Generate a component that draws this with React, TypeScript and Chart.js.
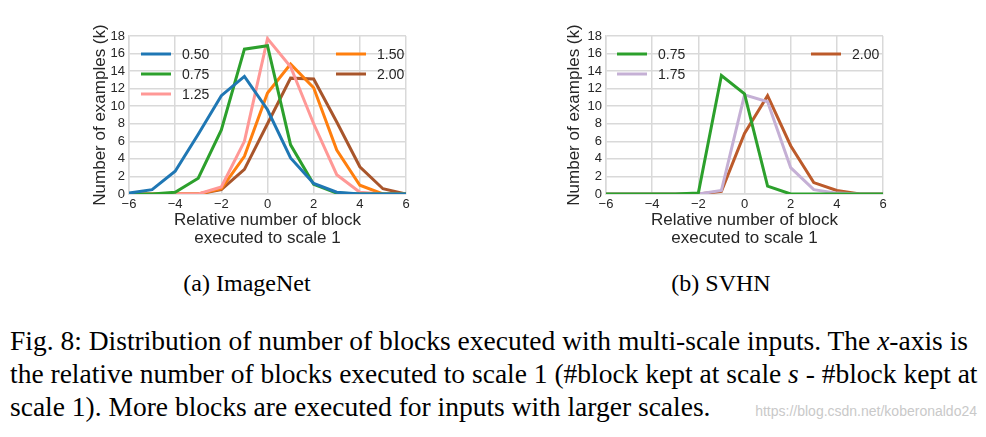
import React, { useEffect, useRef } from "react";
import { Chart, registerables } from "chart.js";

Chart.register(...registerables);

// ---------- data ----------
const xValues = [-6, -5, -4, -3, -2, -1, 0, 1, 2, 3, 4, 5, 6];

const imagenetLabels = ["0.50", "0.75", "1.25", "1.50", "2.00"];
const imagenet050 = [0.1, 0.5, 2.6, 6.8, 11.2, 13.4, 9.6, 4.1, 1.2, 0.2, 0.0, 0.0, 0.0];
const imagenet075 = [0.0, 0.0, 0.2, 1.8, 7.3, 16.5, 16.9, 5.6, 1.1, 0.1, 0.0, 0.0, 0.0];
const imagenet125 = [0.0, 0.0, 0.0, 0.0, 0.8, 6.0, 17.7, 14.5, 8.0, 2.2, 0.2, 0.0, 0.0];
const imagenet150 = [0.0, 0.0, 0.0, 0.0, 0.6, 4.3, 11.5, 14.8, 12.1, 5.0, 1.0, 0.0, 0.0];
const imagenet200 = [0.0, 0.0, 0.0, 0.0, 0.5, 2.8, 8.0, 13.2, 13.1, 8.2, 3.1, 0.6, 0.0];

const svhnLabels = ["0.75", "1.75", "2.00"];
const svhn075 = [0.0, 0.0, 0.0, 0.0, 0.1, 13.5, 11.4, 0.9, 0.0, 0.0, 0.0, 0.0, 0.0];
const svhn175 = [0.0, 0.0, 0.0, 0.0, 0.0, 0.4, 11.3, 10.5, 3.0, 0.5, 0.1, 0.0, 0.0];
const svhn200 = [0.0, 0.0, 0.0, 0.0, 0.0, 0.3, 6.9, 11.2, 5.5, 1.3, 0.4, 0.0, 0.0];

const yTitle = "Number of examples (k)";
const xTitle = ["Relative number of block", "executed to scale 1"];

// ---------- styles ----------
const FONT = "'Liberation Sans', Arial, Helvetica, sans-serif";
const SERIF = "'Liberation Serif', 'Times New Roman', Times, serif";
const GRID = "#d9d9d9";
const TEXT = "#262626";

const toPoints = (vals: number[]) => vals.map((y, i) => ({ x: xValues[i], y }));

type LegendItem = { ds: number; x: number; y: number };

const customLegend = {
  id: "customLegend",
  afterDraw(chart: any, _args: any, opts: any) {
    const items: LegendItem[] = opts.items || [];
    const ctx = chart.ctx;
    ctx.save();
    ctx.font = `14px ${FONT}`;
    ctx.textBaseline = "middle";
    ctx.textAlign = "left";
    items.forEach((it) => {
      const ds = chart.data.datasets[it.ds];
      ctx.strokeStyle = ds.borderColor;
      ctx.lineWidth = 3;
      ctx.beginPath();
      ctx.moveTo(it.x, it.y);
      ctx.lineTo(it.x + 30, it.y);
      ctx.stroke();
      ctx.fillStyle = TEXT;
      ctx.fillText(ds.label, it.x + 41, it.y + 1);
    });
    ctx.restore();
  },
};

function makeConfig(
  labels: string[],
  series: number[][],
  colors: string[],
  legendItems: LegendItem[],
  titlePadTop: number
): any {
  return {
    type: "line",
    data: {
      datasets: series.map((s, i) => ({
        label: labels[i],
        data: toPoints(s),
        borderColor: colors[i],
        backgroundColor: colors[i],
        borderWidth: 3,
        pointRadius: 0,
        tension: 0,
        fill: false,
      })),
    },
    options: {
      animation: false,
      responsive: false,
      maintainAspectRatio: false,
      layout: { padding: { top: 16, right: 14, bottom: 0, left: 0 } },
      plugins: {
        legend: { display: false },
        tooltip: { enabled: false },
        customLegend: { items: legendItems },
      },
      scales: {
        x: {
          type: "linear",
          min: -6,
          max: 6,
          afterFit: (s: any) => {
            s.height = 56;
          },
          ticks: {
            stepSize: 2,
            autoSkip: false,
            padding: 3,
            color: TEXT,
            font: { family: FONT, size: 13 },
            maxRotation: 0,
            callback: (v: any) => String(v).replace("-", "\u2212"),
          },
          grid: { color: GRID, lineWidth: 1.5, drawTicks: false },
          border: { display: true, color: GRID, width: 1.5 },
          title: {
            display: true,
            text: xTitle,
            color: TEXT,
            font: { family: FONT, size: 17, lineHeight: 18 / 17 },
            padding: { top: 0, bottom: 3 },
          },
        },
        y: {
          min: 0,
          max: 18,
          afterFit: (s: any) => {
            s.width = 49;
          },
          ticks: {
            stepSize: 2,
            autoSkip: false,
            padding: 4,
            color: TEXT,
            font: { family: FONT, size: 13, lineHeight: 1 },
          },
          grid: { color: GRID, lineWidth: 1.5, drawTicks: false },
          border: { display: true, color: GRID, width: 1.5 },
          title: {
            display: true,
            text: yTitle,
            color: TEXT,
            font: { family: FONT, size: 17, lineHeight: 1.2 },
            padding: { top: titlePadTop, bottom: 0 },
          },
        },
      },
    },
    plugins: [customLegend],
  };
}

function ChartCanvas({ config, left, top, width, height }: any) {
  const ref = useRef<HTMLCanvasElement | null>(null);
  useEffect(() => {
    if (!ref.current) return;
    const chart = new Chart(ref.current, config);
    return () => chart.destroy();
  }, []);
  return (
    <canvas
      ref={ref}
      width={width}
      height={height}
      style={{ position: "absolute", left, top, width, height }}
    />
  );
}

export default function App() {
  const leftCfg = makeConfig(
    imagenetLabels,
    [imagenet050, imagenet075, imagenet125, imagenet150, imagenet200],
    ["#1f77b4", "#2ca02c", "#ff9896", "#ff7f0e", "#a8552b"],
    [
      { ds: 0, x: 61, y: 34 },
      { ds: 1, x: 61, y: 54 },
      { ds: 2, x: 61, y: 74 },
      { ds: 3, x: 256, y: 34 },
      { ds: 4, x: 256, y: 54 },
    ],
    10
  );
  const rightCfg = makeConfig(
    svhnLabels,
    [svhn075, svhn175, svhn200],
    ["#2ca02c", "#c5b0d5", "#bc5a2a"],
    [
      { ds: 0, x: 60, y: 34 },
      { ds: 1, x: 60, y: 54 },
      { ds: 2, x: 254, y: 34 },
    ],
    7
  );

  const lineStyle: React.CSSProperties = {
    position: "absolute",
    left: 10,
    width: 958,
    whiteSpace: "nowrap",
    fontFamily: SERIF,
    fontSize: 27.5,
    lineHeight: "33px",
    color: "#000",
  };

  return (
    <div
      style={{
        position: "absolute",
        left: 0,
        top: 0,
        width: 986,
        height: 437,
        background: "#fff",
        overflow: "hidden",
      }}
    >
      <ChartCanvas config={leftCfg} left={80} top={20} width={340} height={230} />
      <ChartCanvas config={rightCfg} left={557} top={20} width={340} height={230} />

      <div
        style={{
          position: "absolute",
          left: 147,
          width: 200,
          top: 268,
          textAlign: "center",
          fontFamily: SERIF,
          fontSize: 24,
          lineHeight: "30px",
          color: "#000",
        }}
      >
        (a) ImageNet
      </div>
      <div
        style={{
          position: "absolute",
          left: 621,
          width: 200,
          top: 268,
          textAlign: "center",
          fontFamily: SERIF,
          fontSize: 24,
          lineHeight: "30px",
          color: "#000",
        }}
      >
        (b) SVHN
      </div>

      <div style={{ ...lineStyle, top: 324, textAlign: "justify", textAlignLast: "justify" }}>
        Fig. 8: Distribution of number of blocks executed with multi-scale inputs. The <i>x</i>-axis is
      </div>
      <div style={{ ...lineStyle, top: 357, textAlign: "justify", textAlignLast: "justify" }}>
        the relative number of blocks executed to scale 1 (#block kept at scale <i>s</i> - #block kept at
      </div>
      <div style={{ ...lineStyle, top: 390, textAlign: "left" }}>
        scale 1). More blocks are executed for inputs with larger scales.
      </div>

      <div
        style={{
          position: "absolute",
          left: 735,
          top: 402,
          width: 242,
          whiteSpace: "nowrap",
          fontFamily: FONT,
          fontSize: 14,
          lineHeight: "18px",
          color: "#c9c9c9",
          textAlign: "right",
        }}
      >
        https://blog.csdn.net/koberonaldo24
      </div>
    </div>
  );
}
